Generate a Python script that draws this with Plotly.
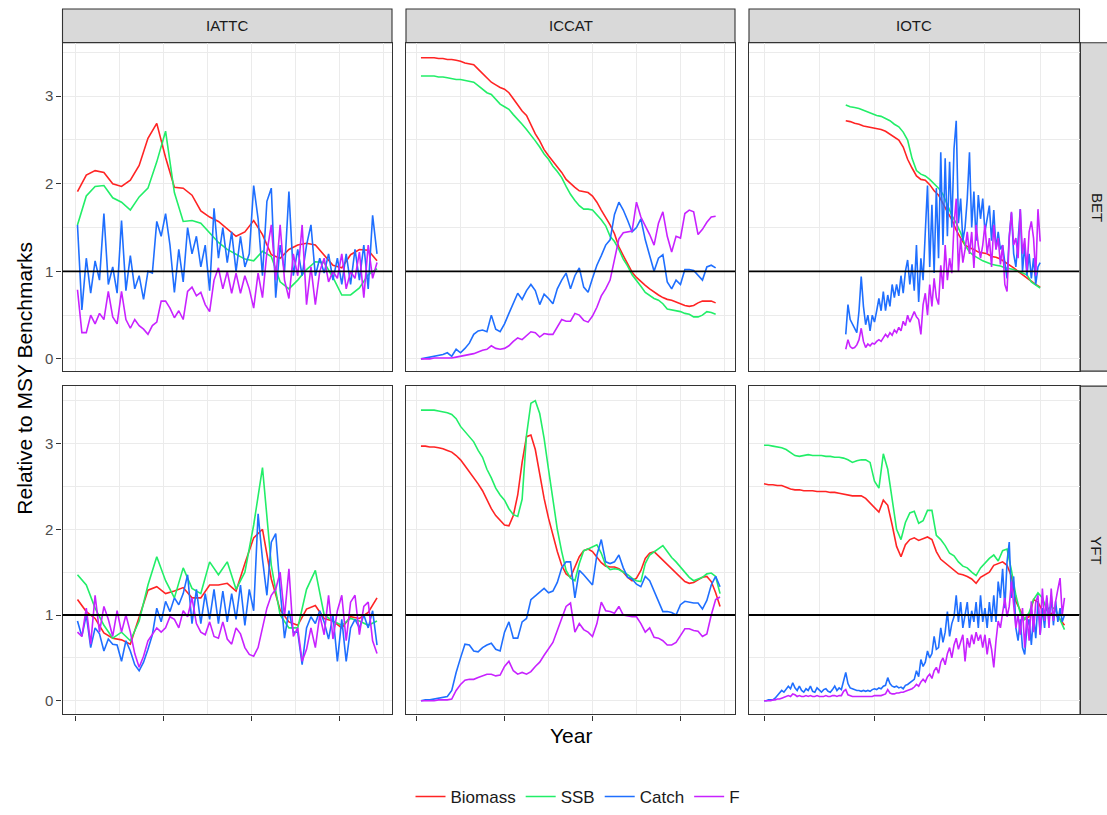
import plotly.graph_objects as go

W, H = 1107, 815

# ---------------- data ----------------
SERIES = ["Biomass", "SSB", "Catch", "F"]
COLORS = {"Biomass": "#FF2424", "SSB": "#22EE68", "Catch": "#1F6FFF", "F": "#C822FF"}
REGIONS = ["IATTC", "ICCAT", "IOTC"]
SPECIES = ["BET", "YFT"]


def years(start, step, n):
    return [start + step * i for i in range(n)]


# IATTC: annual (stock) and semi-annual (catch / F) series starting 1975.25
IATTC_BET_biomass = [1.91, 2.10, 2.15, 2.13, 2.00, 1.97, 2.04, 2.21, 2.52, 2.69,
                     2.30, 1.96, 1.95, 1.87, 1.69, 1.62, 1.57, 1.49, 1.40, 1.45,
                     1.58, 1.42, 1.19, 1.15, 1.25, 1.30, 1.32, 1.30, 1.19, 1.07,
                     1.04, 1.19, 1.25, 1.24, 1.12]
IATTC_BET_ssb = [1.53, 1.86, 1.97, 1.98, 1.84, 1.79, 1.70, 1.85, 1.95, 2.25,
                 2.60, 1.90, 1.57, 1.58, 1.55, 1.44, 1.33, 1.25, 1.19, 1.14,
                 1.12, 1.23, 1.17, 0.88, 0.80, 0.90, 1.02, 1.11, 1.10, 0.93,
                 0.73, 0.73, 0.81, 0.96, 1.03]
IATTC_BET_catch = [1.53, 0.56, 1.15, 0.75, 1.12, 0.90, 1.66, 0.85, 1.05, 0.75,
                   1.58, 0.78, 1.18, 0.80, 0.95, 0.68, 1.00, 0.98, 1.57, 1.40,
                   1.66, 1.30, 0.76, 1.25, 0.88, 1.50, 1.20, 1.40, 1.05, 1.30,
                   0.78, 1.72, 1.15, 1.50, 1.10, 1.45, 1.00, 1.40, 1.05, 1.20,
                   1.98, 1.60, 0.95, 1.80, 1.95, 0.70, 1.30, 1.00, 1.91, 0.95,
                   1.25, 0.95, 1.30, 1.53, 0.95, 1.15, 0.98, 1.20, 0.90, 1.15,
                   0.85, 1.20, 0.85, 1.25, 0.90, 1.30, 0.80, 1.64, 1.20]
IATTC_BET_F = [0.79, 0.30, 0.30, 0.50, 0.40, 0.52, 0.45, 0.77, 0.48, 0.40,
               0.77, 0.45, 0.35, 0.45, 0.38, 0.34, 0.28, 0.38, 0.42, 0.66,
               0.66, 0.58, 0.47, 0.55, 0.45, 0.77, 0.82, 0.72, 0.76, 0.62,
               0.54, 0.90, 1.04, 0.80, 1.00, 0.75, 0.98, 0.75, 0.95, 0.80,
               0.58, 0.98, 0.70, 1.22, 1.53, 0.90, 1.53, 0.90, 0.69, 1.20,
               0.95, 1.53, 0.62, 1.05, 0.62, 1.00, 1.15, 0.88, 1.00, 0.92,
               1.20, 0.80, 1.00, 0.92, 1.22, 0.70, 1.30, 0.92, 1.10]
IATTC_YFT_biomass = [1.18, 1.04, 0.96, 0.79, 0.73, 0.71, 0.66, 0.98, 1.29, 1.33,
                     1.25, 1.28, 1.32, 1.20, 1.20, 1.35, 1.35, 1.37, 1.28, 1.60,
                     1.90, 2.00, 1.42, 1.06, 0.92, 0.88, 1.07, 1.11, 0.96, 0.93,
                     0.85, 0.98, 0.96, 1.03, 1.20]
IATTC_YFT_ssb = [1.47, 1.35, 1.08, 0.88, 0.73, 0.80, 0.70, 0.93, 1.35, 1.68,
                 1.40, 1.20, 1.55, 1.31, 1.25, 1.62, 1.47, 1.62, 1.30, 1.50,
                 2.05, 2.72, 1.58, 1.00, 0.85, 0.85, 1.30, 1.52, 1.00, 0.93,
                 0.88, 0.96, 0.93, 0.88, 0.93]
IATTC_YFT_catch = [0.93, 0.75, 1.00, 0.62, 0.85, 0.78, 0.58, 0.72, 0.66, 0.65,
                   0.46, 0.70, 0.58, 0.42, 0.35, 0.45, 0.60, 0.77, 1.08, 0.92,
                   1.16, 1.04, 1.20, 1.12, 1.25, 1.47, 0.90, 1.30, 0.90, 1.25,
                   0.95, 1.30, 0.90, 1.28, 0.92, 1.25, 0.95, 1.35, 0.88, 1.30,
                   1.05, 2.18, 1.65, 1.23, 1.85, 1.95, 1.30, 0.73, 1.05, 0.80,
                   0.80, 0.42, 0.85, 0.98, 0.90, 1.05, 0.92, 0.72, 1.00, 0.46,
                   0.95, 0.46, 0.85, 0.95, 0.85, 1.00, 0.85, 1.05, 0.65]
IATTC_YFT_F = [0.80, 0.75, 1.08, 0.66, 1.23, 0.80, 1.10, 0.95, 0.75, 1.05,
               0.80, 1.00, 0.80, 0.55, 0.39, 0.52, 0.70, 0.77, 0.85, 0.80,
               0.85, 0.98, 0.95, 0.85, 1.05, 0.98, 1.20, 0.90, 0.80, 0.77,
               0.92, 0.75, 0.73, 0.92, 0.72, 0.66, 0.85, 0.78, 0.62, 0.54,
               0.52, 0.62, 0.85, 1.08, 1.23, 1.30, 1.50, 0.98, 1.54, 0.75,
               0.85, 0.46, 0.60, 0.85, 0.62, 1.00, 0.77, 1.23, 0.72, 1.05,
               1.23, 0.70, 1.15, 1.23, 0.77, 1.10, 1.15, 0.70, 0.55]

# ICCAT: annual, BET 1951-2018, YFT 1951-2019
ICCAT_BET_biomass = [3.44, 3.44, 3.44, 3.44, 3.43, 3.43, 3.42, 3.42, 3.41, 3.40,
                     3.38, 3.37, 3.36, 3.31, 3.26, 3.20, 3.16, 3.13, 3.10, 3.08,
                     3.04, 2.97, 2.90, 2.83, 2.78, 2.68, 2.57, 2.49, 2.39, 2.32,
                     2.26, 2.19, 2.13, 2.05, 2.00, 1.96, 1.92, 1.91, 1.90, 1.86,
                     1.79, 1.70, 1.62, 1.53, 1.43, 1.28, 1.18, 1.09, 0.99, 0.93,
                     0.88, 0.84, 0.80, 0.76, 0.73, 0.70, 0.68, 0.67, 0.65, 0.63,
                     0.61, 0.60, 0.61, 0.64, 0.66, 0.66, 0.66, 0.64]
ICCAT_BET_ssb = [3.23, 3.23, 3.23, 3.23, 3.22, 3.22, 3.21, 3.20, 3.19, 3.19,
                 3.18, 3.17, 3.16, 3.12, 3.08, 3.04, 3.02, 2.97, 2.91, 2.88,
                 2.85, 2.79, 2.74, 2.68, 2.62, 2.56, 2.49, 2.42, 2.34, 2.28,
                 2.20, 2.14, 2.07, 1.97, 1.88, 1.81, 1.75, 1.71, 1.71, 1.70,
                 1.65, 1.59, 1.52, 1.40, 1.34, 1.25, 1.14, 1.06, 0.96, 0.90,
                 0.83, 0.76, 0.72, 0.69, 0.67, 0.63, 0.57, 0.56, 0.55, 0.54,
                 0.52, 0.51, 0.48, 0.48, 0.50, 0.54, 0.53, 0.51]
ICCAT_BET_catch = [0.00, 0.01, 0.02, 0.03, 0.04, 0.05, 0.07, 0.03, 0.11, 0.07,
                   0.12, 0.18, 0.28, 0.32, 0.33, 0.31, 0.50, 0.34, 0.31, 0.40,
                   0.52, 0.63, 0.75, 0.68, 0.78, 0.85, 0.78, 0.62, 0.74, 0.69,
                   0.63, 0.80, 0.90, 0.98, 0.80, 0.95, 1.04, 0.82, 0.76, 0.92,
                   1.07, 1.18, 1.30, 1.36, 1.65, 1.79, 1.70, 1.58, 1.45, 1.50,
                   1.60, 1.36, 1.19, 1.00, 1.15, 1.19, 0.88, 0.80, 0.90, 0.85,
                   1.02, 1.02, 1.01, 0.95, 0.90, 1.05, 1.07, 1.04]
ICCAT_BET_F = [0.00, 0.00, 0.00, 0.01, 0.01, 0.01, 0.01, 0.01, 0.02, 0.03,
               0.04, 0.05, 0.06, 0.08, 0.10, 0.11, 0.15, 0.12, 0.11, 0.12,
               0.15, 0.20, 0.24, 0.22, 0.27, 0.31, 0.30, 0.25, 0.29, 0.28,
               0.28, 0.37, 0.45, 0.43, 0.43, 0.52, 0.50, 0.44, 0.42, 0.49,
               0.59, 0.72, 0.80, 0.90, 1.15, 1.37, 1.44, 1.45, 1.46, 1.79,
               1.62, 1.52, 1.42, 1.30, 1.55, 1.68, 1.40, 1.22, 1.40, 1.38,
               1.66, 1.70, 1.68, 1.42, 1.48, 1.56, 1.62, 1.63]
ICCAT_YFT_biomass = [2.97, 2.97, 2.96, 2.96, 2.95, 2.94, 2.92, 2.90, 2.86, 2.81,
                     2.74, 2.67, 2.61, 2.53, 2.45, 2.34, 2.24, 2.16, 2.10, 2.05,
                     2.04, 2.16, 2.40, 2.78, 3.08, 3.10, 2.93, 2.63, 2.36, 2.13,
                     1.92, 1.74, 1.58, 1.48, 1.44, 1.55, 1.68, 1.75, 1.77, 1.74,
                     1.67, 1.61, 1.57, 1.56, 1.56, 1.54, 1.50, 1.44, 1.40, 1.43,
                     1.52, 1.66, 1.72, 1.74, 1.69, 1.64, 1.59, 1.55, 1.50, 1.45,
                     1.39, 1.37, 1.38, 1.41, 1.44, 1.45, 1.39, 1.26, 1.10]
ICCAT_YFT_ssb = [3.39, 3.39, 3.39, 3.39, 3.38, 3.37, 3.36, 3.34, 3.29, 3.20,
                 3.14, 3.08, 3.02, 2.92, 2.84, 2.70, 2.60, 2.48, 2.40, 2.34,
                 2.24, 2.17, 2.15, 2.35, 3.10, 3.47, 3.50, 3.35, 3.06, 2.70,
                 2.35, 2.00, 1.74, 1.52, 1.43, 1.40, 1.60, 1.75, 1.77, 1.80,
                 1.82, 1.72, 1.58, 1.53, 1.54, 1.53, 1.50, 1.47, 1.43, 1.40,
                 1.39, 1.60, 1.70, 1.74, 1.78, 1.81, 1.74, 1.67, 1.62, 1.56,
                 1.50, 1.44, 1.40, 1.42, 1.44, 1.48, 1.49, 1.45, 1.25]
ICCAT_YFT_catch = [0.00, 0.01, 0.01, 0.02, 0.03, 0.04, 0.05, 0.12, 0.33, 0.50,
                   0.66, 0.65, 0.58, 0.57, 0.62, 0.65, 0.67, 0.60, 0.58, 0.80,
                   0.92, 0.73, 0.73, 0.92, 0.96, 1.18, 1.22, 1.27, 1.31, 1.26,
                   1.28, 1.38, 1.55, 1.62, 1.62, 1.20, 1.52, 1.47, 1.41, 1.35,
                   1.70, 1.88, 1.62, 1.60, 1.62, 1.70, 1.55, 1.44, 1.42, 1.36,
                   1.33, 1.45, 1.40, 1.28, 1.15, 1.04, 1.04, 1.03, 1.00, 1.12,
                   1.16, 1.15, 1.14, 1.14, 1.07, 1.17, 1.35, 1.45, 1.33]
ICCAT_YFT_F = [0.00, 0.00, 0.00, 0.00, 0.01, 0.01, 0.01, 0.02, 0.12, 0.19,
               0.24, 0.25, 0.25, 0.27, 0.29, 0.31, 0.31, 0.29, 0.30, 0.40,
               0.46, 0.35, 0.31, 0.33, 0.31, 0.34, 0.40, 0.45, 0.53, 0.60,
               0.68, 0.82, 0.97, 1.10, 1.14, 0.80, 0.90, 0.83, 0.80, 0.75,
               0.90, 1.15, 1.05, 1.04, 1.02, 1.10, 1.00, 0.99, 0.98, 0.98,
               0.90, 0.80, 0.85, 0.74, 0.73, 0.70, 0.65, 0.65, 0.68, 0.76,
               0.84, 0.84, 0.82, 0.81, 0.75, 0.78, 1.00, 1.18, 1.21]

# IOTC: BET from 1968.5 (annual stock, semi-annual catch/F); YFT from 1950
IOTC_BET_biomass = [2.72, 2.71, 2.69, 2.68, 2.66, 2.65, 2.64, 2.63, 2.62, 2.60,
                    2.57, 2.54, 2.50, 2.42, 2.28, 2.18, 2.09, 2.05, 2.04, 1.99,
                    1.92, 1.87, 1.77, 1.68, 1.59, 1.47, 1.38, 1.30, 1.27, 1.25,
                    1.22, 1.21, 1.20, 1.17, 1.16, 1.14, 1.11, 1.07, 1.04, 1.00,
                    0.96, 0.92, 0.88, 0.85, 0.82]
IOTC_BET_ssb = [2.90, 2.88, 2.87, 2.86, 2.84, 2.82, 2.80, 2.78, 2.77, 2.74,
                2.72, 2.68, 2.65, 2.59, 2.50, 2.29, 2.15, 2.11, 2.09, 2.05,
                2.00, 1.95, 1.88, 1.76, 1.64, 1.55, 1.44, 1.30, 1.22, 1.18,
                1.15, 1.12, 1.10, 1.08, 1.07, 1.06, 1.04, 1.03, 1.02, 1.00,
                0.98, 0.96, 0.88, 0.85, 0.81]
IOTC_BET_catch = [0.28, 0.62, 0.45, 0.40, 0.35, 0.30, 0.55, 0.94, 0.60, 0.39,
                  0.50, 0.32, 0.50, 0.42, 0.55, 0.69, 0.55, 0.77, 0.55, 0.73,
                  0.60, 0.85, 0.70, 0.85, 0.72, 0.95, 0.75, 1.00, 1.13, 0.85,
                  1.08, 0.78, 1.30, 0.65, 1.15, 0.90, 1.45, 1.98, 1.05, 1.76,
                  0.98, 1.95, 1.15, 2.36, 1.30, 2.29, 1.40, 2.25, 1.50, 2.40,
                  2.72, 1.55, 1.83, 1.35, 1.50, 1.83, 2.36, 1.50, 1.91, 1.35,
                  1.87, 1.60, 1.83, 1.45, 1.60, 1.75, 1.35, 1.70, 1.25, 1.45,
                  1.25, 1.30, 1.10, 0.92, 1.40, 1.67, 1.20, 1.05, 1.35, 1.71,
                  1.00, 1.30, 0.95, 1.20, 0.92, 1.15, 0.85, 1.05, 1.10]
IOTC_BET_F = [0.11, 0.22, 0.14, 0.12, 0.13, 0.16, 0.22, 0.35, 0.20, 0.13,
              0.17, 0.15, 0.18, 0.17, 0.20, 0.22, 0.20, 0.24, 0.28, 0.25,
              0.30, 0.27, 0.33, 0.30, 0.36, 0.32, 0.43, 0.38, 0.50, 0.42,
              0.48, 0.54, 0.48, 0.45, 0.28, 0.62, 0.75, 0.50, 0.85, 0.60,
              0.92, 0.70, 0.62, 1.07, 0.80, 1.30, 0.90, 1.15, 0.98, 1.53,
              1.83, 1.00, 1.38, 1.10, 1.25, 1.45, 1.20, 1.45, 1.04, 1.53,
              1.30, 1.15, 1.30, 1.53, 1.20, 1.38, 1.05, 1.53, 1.25, 1.38,
              1.08, 1.30, 0.85, 0.77, 1.38, 1.68, 1.30, 1.38, 1.15, 1.71,
              1.20, 1.38, 1.00, 1.45, 1.57, 1.38, 0.95, 1.71, 1.34]
IOTC_YFT_biomass = [2.53, 2.52, 2.52, 2.51, 2.51, 2.49, 2.47, 2.46, 2.46, 2.45,
                    2.45, 2.45, 2.44, 2.44, 2.44, 2.43, 2.43, 2.42, 2.41, 2.40,
                    2.39, 2.39, 2.39, 2.36, 2.31, 2.26, 2.20, 2.34, 2.28, 2.05,
                    1.80, 1.68, 1.82, 1.88, 1.90, 1.87, 1.89, 1.91, 1.88, 1.74,
                    1.65, 1.61, 1.56, 1.52, 1.48, 1.47, 1.45, 1.42, 1.37, 1.44,
                    1.47, 1.50, 1.58, 1.60, 1.62, 1.58, 1.45, 1.16, 1.05, 0.95,
                    0.98, 1.18, 1.15, 1.05, 1.00, 1.02, 1.00, 0.95, 0.88]
IOTC_YFT_ssb = [2.98, 2.98, 2.97, 2.96, 2.95, 2.93, 2.90, 2.86, 2.85, 2.86,
                2.87, 2.86, 2.86, 2.86, 2.85, 2.85, 2.84, 2.84, 2.83, 2.81,
                2.78, 2.80, 2.81, 2.81, 2.78, 2.56, 2.48, 2.88, 2.70, 2.35,
                2.00, 1.88, 2.08, 2.19, 2.21, 2.07, 2.10, 2.22, 2.22, 1.93,
                1.88, 1.81, 1.72, 1.69, 1.62, 1.57, 1.55, 1.50, 1.46, 1.55,
                1.61, 1.66, 1.70, 1.63, 1.75, 1.77, 1.52, 1.23, 1.02, 0.95,
                1.03, 1.18, 1.26, 1.20, 1.06, 1.10, 1.06, 0.95, 0.83]
IOTC_YFT_catch = [0.00, 0.00, 0.01, 0.01, 0.01, 0.03, 0.06, 0.08, 0.12, 0.10,
                  0.14, 0.17, 0.14, 0.21, 0.15, 0.12, 0.17, 0.12, 0.10, 0.14,
                  0.12, 0.17, 0.11, 0.10, 0.15, 0.12, 0.10, 0.13, 0.14, 0.11,
                  0.10, 0.13, 0.17, 0.12, 0.15, 0.13, 0.25, 0.33, 0.20, 0.15,
                  0.14, 0.13, 0.12, 0.12, 0.11, 0.12, 0.11, 0.12, 0.11, 0.13,
                  0.14, 0.13, 0.15, 0.14, 0.17, 0.18, 0.27, 0.20, 0.17, 0.16,
                  0.17, 0.15, 0.16, 0.14, 0.18, 0.19, 0.21, 0.22, 0.25, 0.35,
                  0.28, 0.48, 0.40, 0.45, 0.58, 0.50, 0.55, 0.75, 0.60, 0.62,
                  0.85, 0.68, 0.80, 1.04, 0.75, 0.90, 0.98, 1.23, 0.92, 1.15,
                  0.85, 1.00, 1.15, 0.85, 1.05, 0.92, 1.15, 0.85, 1.23, 0.92,
                  1.08, 0.85, 1.15, 0.92, 1.23, 0.92, 1.39, 1.20, 1.54, 1.08,
                  1.62, 1.85, 1.20, 1.45, 0.85, 0.70, 0.95, 0.62, 0.54, 0.85,
                  0.95, 0.65, 1.00, 0.73, 1.16, 0.77, 1.08, 0.85, 1.20, 0.92,
                  1.23, 0.88, 1.16, 0.92, 1.08, 0.92, 1.00]
IOTC_YFT_F = [0.00, 0.00, 0.00, 0.00, 0.01, 0.01, 0.02, 0.02, 0.03, 0.04,
              0.05, 0.06, 0.05, 0.08, 0.07, 0.05, 0.06, 0.05, 0.05, 0.06,
              0.05, 0.06, 0.05, 0.05, 0.06, 0.05, 0.05, 0.05, 0.06, 0.05,
              0.05, 0.06, 0.06, 0.05, 0.06, 0.06, 0.11, 0.13, 0.07, 0.06,
              0.05, 0.05, 0.05, 0.05, 0.05, 0.05, 0.05, 0.05, 0.05, 0.05,
              0.06, 0.06, 0.06, 0.06, 0.07, 0.08, 0.13, 0.09, 0.08, 0.08,
              0.09, 0.09, 0.10, 0.10, 0.11, 0.12, 0.13, 0.14, 0.16, 0.19,
              0.17, 0.22, 0.25, 0.22, 0.28, 0.31, 0.26, 0.35, 0.39, 0.32,
              0.45, 0.50, 0.42, 0.55, 0.62, 0.50, 0.65, 0.73, 0.60, 0.70,
              0.77, 0.46, 0.73, 0.62, 0.77, 0.66, 0.80, 0.70, 0.77, 0.62,
              0.77, 0.54, 0.73, 0.60, 0.39, 0.70, 0.93, 0.85, 1.04, 1.20,
              0.98, 1.10, 1.39, 1.10, 0.85, 1.00, 0.77, 1.08, 0.62, 1.00,
              0.70, 1.16, 0.80, 1.15, 1.23, 0.77, 1.31, 0.93, 1.23, 0.85,
              1.31, 0.93, 1.16, 1.30, 1.43, 1.00, 1.20]

# (region, species) -> series -> (first year, step in years, values)
DATA = {
    ("IATTC", "BET"): {"Biomass": (1975.25, 1.0, IATTC_BET_biomass), "SSB": (1975.25, 1.0, IATTC_BET_ssb),
                       "Catch": (1975.25, 0.5, IATTC_BET_catch), "F": (1975.25, 0.5, IATTC_BET_F)},
    ("IATTC", "YFT"): {"Biomass": (1975.25, 1.0, IATTC_YFT_biomass), "SSB": (1975.25, 1.0, IATTC_YFT_ssb),
                       "Catch": (1975.25, 0.5, IATTC_YFT_catch), "F": (1975.25, 0.5, IATTC_YFT_F)},
    ("ICCAT", "BET"): {"Biomass": (1951, 1.0, ICCAT_BET_biomass), "SSB": (1951, 1.0, ICCAT_BET_ssb),
                       "Catch": (1951, 1.0, ICCAT_BET_catch), "F": (1951, 1.0, ICCAT_BET_F)},
    ("ICCAT", "YFT"): {"Biomass": (1951, 1.0, ICCAT_YFT_biomass), "SSB": (1951, 1.0, ICCAT_YFT_ssb),
                       "Catch": (1951, 1.0, ICCAT_YFT_catch), "F": (1951, 1.0, ICCAT_YFT_F)},
    ("IOTC", "BET"): {"Biomass": (1968.5, 1.0, IOTC_BET_biomass), "SSB": (1968.5, 1.0, IOTC_BET_ssb),
                      "Catch": (1968.5, 0.5, IOTC_BET_catch), "F": (1968.5, 0.5, IOTC_BET_F)},
    ("IOTC", "YFT"): {"Biomass": (1950, 1.0, IOTC_YFT_biomass), "SSB": (1950, 1.0, IOTC_YFT_ssb),
                      "Catch": (1950, 0.5, IOTC_YFT_catch), "F": (1950, 0.5, IOTC_YFT_F)},
}

X_TICKS = {"IATTC": (1975, 10), "ICCAT": (1950, 20), "IOTC": (1950, 25)}
Y_TICKS = [0, 1, 2, 3]
Y_RANGES = {"BET": (-0.14, 3.61), "YFT": (-0.16, 3.67)}

# ---------------- layout geometry (pixels) ----------------
COL_PX = [(62.5, 392.0), (406.0, 735.0), (749.0, 1079.5)]
ROW_PX = [(43.0, 373.0), (388.0, 718.0)]
STRIP_TOP = (9.0, 43.0)
STRIP_RIGHT = (1080.0, 1114.0)

FONT = "Liberation Sans, Arial, Helvetica, sans-serif"
GRID = "#EBEBEB"
EDGE = "#333333"


def px_x(v):
    return v / W


def px_y(v):
    return 1 - v / H


fig = go.Figure()
layout = {}
shapes = []
annotations = []

# x ranges per column (ggplot default 5% expansion)
x_ranges = {}
for reg in REGIONS:
    lo, hi = [], []
    for sp in SPECIES:
        for s in SERIES:
            start, step, vals = DATA[(reg, sp)][s]
            xs = years(start, step, len(vals))
            lo.append(min(xs))
            hi.append(max(xs))
    a, b = min(lo), max(hi)
    pad = 0.05 * (b - a)
    x_ranges[reg] = (a - pad, b + pad)

for r, sp in enumerate(SPECIES):
    for c, reg in enumerate(REGIONS):
        p = r * 3 + c + 1
        xname = "xaxis" if p == 1 else f"xaxis{p}"
        yname = "yaxis" if p == 1 else f"yaxis{p}"
        xref = "x" if p == 1 else f"x{p}"
        yref = "y" if p == 1 else f"y{p}"
        t0, dt = X_TICKS[reg]
        layout[xname] = dict(
            domain=[px_x(COL_PX[c][0]), px_x(COL_PX[c][1])],
            range=list(x_ranges[reg]), anchor=yref,
            tickmode="linear", tick0=t0, dtick=dt,
            showticklabels=False,
            ticks="outside" if r == 1 else "", ticklen=5, tickwidth=1.1, tickcolor=EDGE,
            showgrid=True, gridcolor=GRID, gridwidth=1.3,
            minor=dict(tick0=t0, dtick=dt / 2, showgrid=True, gridcolor=GRID, gridwidth=0.7, ticks=""),
            showline=True, mirror=True, linecolor=EDGE, linewidth=1.1,
            zeroline=False, fixedrange=True, automargin=False,
        )
        layout[yname] = dict(
            domain=[px_y(ROW_PX[r][1]), px_y(ROW_PX[r][0])],
            range=list(Y_RANGES[sp]), anchor=xref,
            tickmode="array", tickvals=Y_TICKS, ticktext=[str(v) for v in Y_TICKS],
            showticklabels=(c == 0),
            tickfont=dict(family=FONT, size=15, color="#4D4D4D"),
            ticks="outside" if c == 0 else "", ticklen=5, tickwidth=1.1, tickcolor=EDGE,
            showgrid=True, gridcolor=GRID, gridwidth=1.3,
            minor=dict(tick0=0.5, dtick=1, showgrid=True, gridcolor=GRID, gridwidth=0.7, ticks=""),
            showline=True, mirror=True, linecolor=EDGE, linewidth=1.1,
            zeroline=False, fixedrange=True, automargin=False,
        )
        for s in SERIES:
            start, step, vals = DATA[(reg, sp)][s]
            fig.add_trace(go.Scatter(
                x=years(start, step, len(vals)), y=vals, mode="lines", name=s,
                legendgroup=s, showlegend=(p == 1),
                line=dict(color=COLORS[s], width=1.6),
                xaxis=xref, yaxis=yref, hoverinfo="skip",
            ))
        # reference line at 1 (MSY benchmark)
        shapes.append(dict(type="line", xref=f"{xref} domain", x0=0, x1=1, yref=yref, y0=1, y1=1,
                           line=dict(color="black", width=1.8), layer="above"))

# facet strips
for c, reg in enumerate(REGIONS):
    shapes.append(dict(type="rect", xref="paper", yref="paper",
                       x0=px_x(COL_PX[c][0]), x1=px_x(COL_PX[c][1]),
                       y0=px_y(STRIP_TOP[1]), y1=px_y(STRIP_TOP[0]),
                       fillcolor="#D9D9D9", line=dict(color=EDGE, width=1.1), layer="below"))
    annotations.append(dict(text=reg, xref="paper", yref="paper", showarrow=False,
                            x=px_x((COL_PX[c][0] + COL_PX[c][1]) / 2), y=px_y(sum(STRIP_TOP) / 2),
                            xanchor="center", yanchor="middle",
                            font=dict(family=FONT, size=15, color="#1A1A1A")))
for r, sp in enumerate(SPECIES):
    shapes.append(dict(type="rect", xref="paper", yref="paper",
                       x0=px_x(STRIP_RIGHT[0]), x1=px_x(STRIP_RIGHT[1]),
                       y0=px_y(ROW_PX[r][1]), y1=px_y(ROW_PX[r][0]),
                       fillcolor="#D9D9D9", line=dict(color=EDGE, width=1.1), layer="below"))
    annotations.append(dict(text=sp, xref="paper", yref="paper", showarrow=False, textangle=90,
                            x=px_x(sum(STRIP_RIGHT) / 2), y=px_y(sum(ROW_PX[r]) / 2),
                            xanchor="center", yanchor="middle",
                            font=dict(family=FONT, size=15, color="#1A1A1A")))

# axis titles
annotations.append(dict(text="Year", xref="paper", yref="paper", showarrow=False,
                        x=px_x((COL_PX[0][0] + COL_PX[2][1]) / 2), y=px_y(739),
                        xanchor="center", yanchor="middle",
                        font=dict(family=FONT, size=21, color="black")))
annotations.append(dict(text="Relative to MSY Benchmarks", xref="paper", yref="paper", showarrow=False,
                        textangle=-90, x=px_x(25), y=px_y((ROW_PX[0][0] + ROW_PX[1][1]) / 2),
                        xanchor="center", yanchor="middle",
                        font=dict(family=FONT, size=21, color="black")))

fig.update_layout(
    width=W, height=H,
    margin=dict(l=0, r=0, t=0, b=0),
    paper_bgcolor="white", plot_bgcolor="white",
    font=dict(family=FONT, size=14, color="black"),
    showlegend=True,
    legend=dict(orientation="h", x=px_x(578), xanchor="center", y=px_y(801), yanchor="middle",
                font=dict(family=FONT, size=17, color="#1A1A1A"), bgcolor="rgba(0,0,0,0)",
                itemwidth=30, tracegroupgap=0),
    shapes=shapes, annotations=annotations,
    hovermode=False,
    **layout,
)

fig.write_html("out.html", config={"displayModeBar": False})
